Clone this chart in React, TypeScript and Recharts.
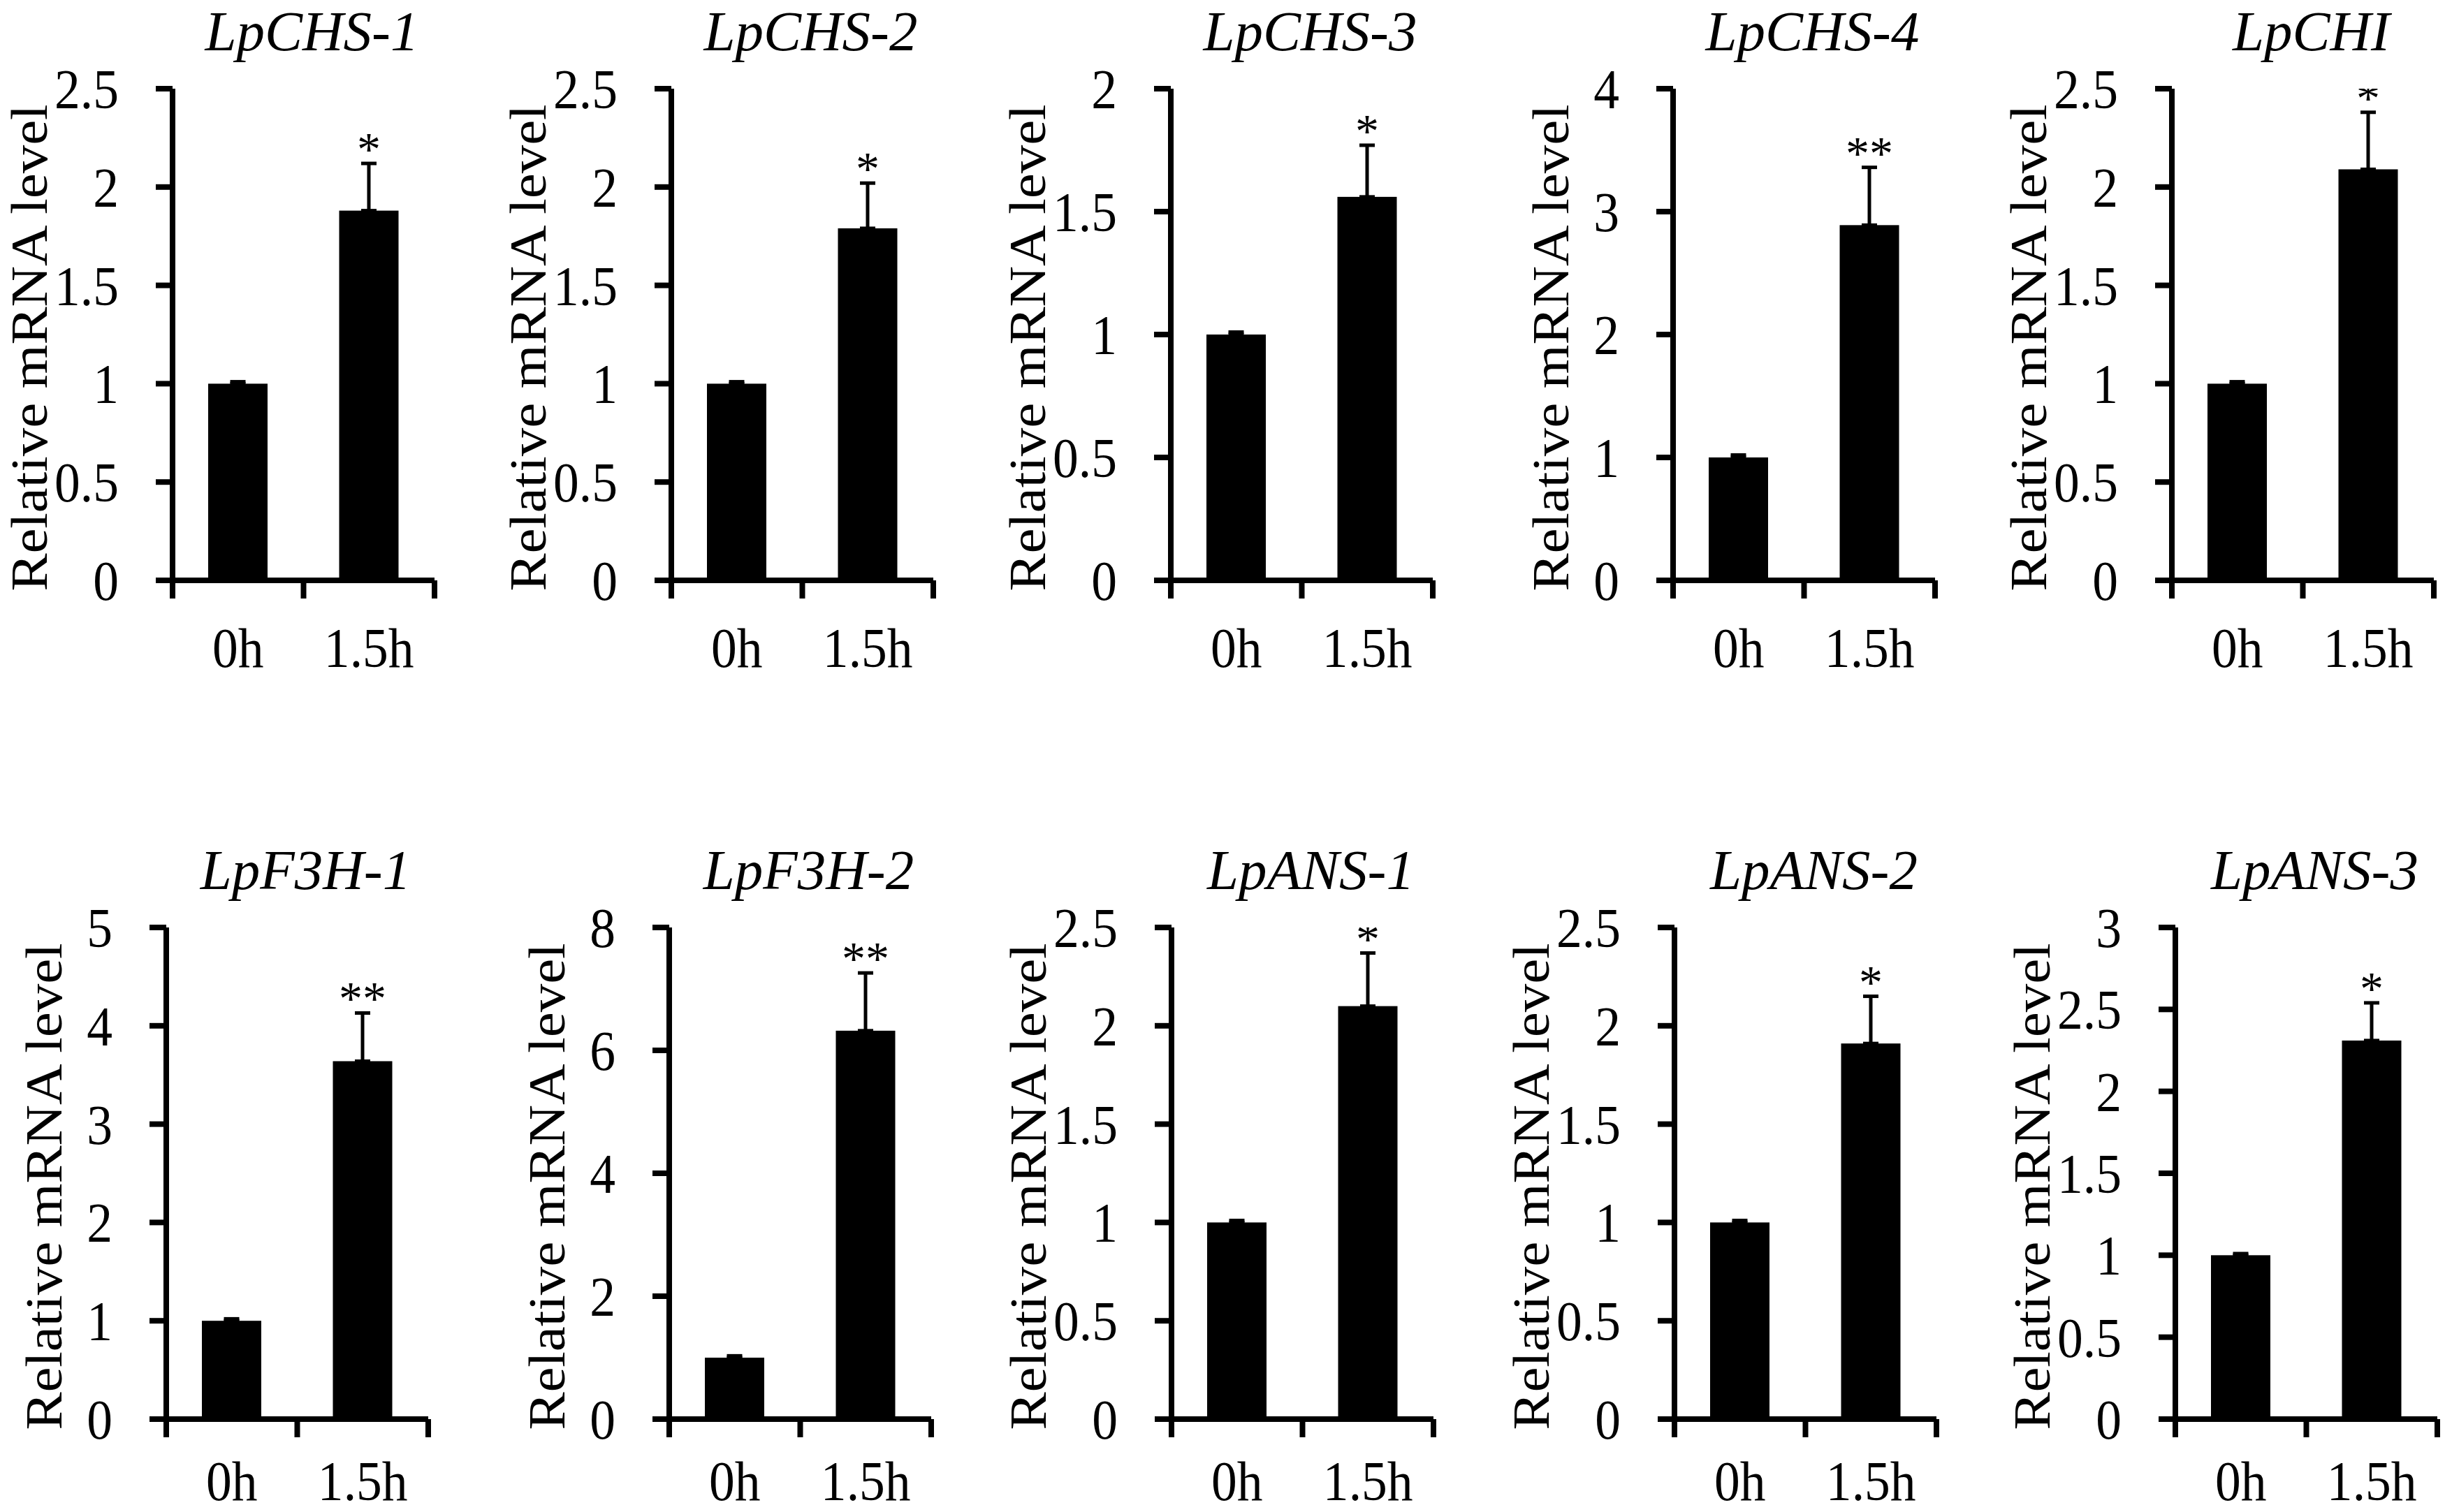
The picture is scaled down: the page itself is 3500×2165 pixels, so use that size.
import { BarChart, Bar, XAxis, YAxis, ErrorBar } from 'recharts';

// gene panels, left to right, top row then bottom row
const genes = [
  'LpCHS-1',
  'LpCHS-2',
  'LpCHS-3',
  'LpCHS-4',
  'LpCHI',
  'LpF3H-1',
  'LpF3H-2',
  'LpANS-1',
  'LpANS-2',
  'LpANS-3',
];
const timePoints = ['0h', '1.5h'];

const controlMean = [1, 1, 1, 1, 1, 1, 1, 1, 1, 1];
const controlErr = [0.01, 0.01, 0.01, 0.02, 0.01, 0.02, 0.03, 0.01, 0.01, 0.01];
const treatedMean = [1.88, 1.79, 1.56, 2.89, 2.09, 3.64, 6.32, 2.1, 1.91, 2.31];
const treatedErr = [0.24, 0.23, 0.21, 0.47, 0.29, 0.49, 0.94, 0.27, 0.24, 0.23];
const significance = ['*', '*', '*', '**', '*', '**', '**', '*', '*', '*'];

const yTicks = [
  [0, 0.5, 1, 1.5, 2, 2.5],
  [0, 0.5, 1, 1.5, 2, 2.5],
  [0, 0.5, 1, 1.5, 2],
  [0, 1, 2, 3, 4],
  [0, 0.5, 1, 1.5, 2, 2.5],
  [0, 1, 2, 3, 4, 5],
  [0, 2, 4, 6, 8],
  [0, 0.5, 1, 1.5, 2, 2.5],
  [0, 0.5, 1, 1.5, 2, 2.5],
  [0, 0.5, 1, 1.5, 2, 2.5, 3],
];
// edges of the two categories plus their centres (where the labels go)
const xTicks = [0, 0.5, 1, 1.5, 2];

const FONT = '"Liberation Serif", "Times New Roman", serif';
const SQUEEZE = 0.92; // the source figure is a little narrower than tall
const CHART_W = 716;
const PLOT_LEFT = 247;
const PLOT_W = 375;
const PLOT_TOP = 127;
const PLOT_H = 704;
const AXIS_H = 160;
const CHART_H = PLOT_TOP + PLOT_H + AXIS_H;

const ROW_TOPS = [0, 1201];
const ROW_LABEL_DROP = [124, 116];
const PANEL_LEFTS = [
  [0, 714, 1429, 2148, 2862],
  [-9, 711, 1430, 2150, 2867],
];

function panelData(i: number) {
  return timePoints.map((time, k) => ({
    t: k + 0.5,
    time,
    mean: k === 0 ? controlMean[i] : treatedMean[i],
    err: [0, k === 0 ? controlErr[i] : treatedErr[i]],
    sig: k === 0 ? '' : significance[i],
  }));
}

function EdgeTick(props: any) {
  const { x, y, payload, drop } = props;
  const v = payload.value;
  if (Number.isInteger(v)) {
    return <line x1={x} y1={y} x2={x} y2={y + 26} stroke="#000" strokeWidth={8} />;
  }
  return (
    <g transform={`translate(${x}, ${y + drop}) scale(${SQUEEZE}, 1)`}>
      <text x={0} y={0} textAnchor="middle" fontFamily={FONT} fontSize={80} fill="#000">
        {timePoints[Math.floor(v)]}
      </text>
    </g>
  );
}

function ValueTick(props: any) {
  const { x, y, payload } = props;
  return (
    <g transform={`translate(${x}, ${y}) scale(${SQUEEZE}, 1)`}>
      <text x={0} y={0} dy="0.35em" textAnchor="end" fontFamily={FONT} fontSize={80} fill="#000">
        {String(payload.value)}
      </text>
    </g>
  );
}

function BarWithStar(props: any) {
  const { x, y, width, height, payload } = props;
  const perUnit = height / payload.mean;
  const errTop = y - payload.err[1] * perUnit;
  return (
    <g>
      <rect x={x} y={y} width={width} height={height} fill="#000" />
      {payload.sig && (
        <text
          x={x + width / 2}
          y={errTop + 2}
          textAnchor="middle"
          fontFamily={FONT}
          fontSize={68}
          fill="#000"
        >
          {payload.sig}
        </text>
      )}
    </g>
  );
}

function Panel({ index }: { index: number }) {
  const row = Math.floor(index / 5);
  const col = index % 5;
  const left = PANEL_LEFTS[row][col];
  const top = ROW_TOPS[row];
  const drop = ROW_LABEL_DROP[row];
  const ticks = yTicks[index];
  const intTicks = ticks.every((t) => Number.isInteger(t));
  const labelX = PLOT_LEFT - (intTicks ? 150 : 180);
  const labelY = PLOT_TOP + PLOT_H / 2 + 19;

  return (
    <div style={{ position: 'absolute', left, top, width: CHART_W, height: CHART_H }}>
      <BarChart
        width={CHART_W}
        height={CHART_H}
        data={panelData(index)}
        margin={{ top: PLOT_TOP, right: CHART_W - PLOT_LEFT - PLOT_W, bottom: 0, left: 0 }}
      >
        <XAxis
          type="number"
          dataKey="t"
          domain={[0, 2]}
          ticks={xTicks}
          interval={0}
          allowDataOverflow
          height={AXIS_H}
          tickSize={0}
          tickMargin={0}
          tickLine={false}
          axisLine={{ stroke: '#000', strokeWidth: 8 }}
          tick={(p: any) => <EdgeTick {...p} drop={drop} />}
        />
        <YAxis
          type="number"
          domain={[0, ticks[ticks.length - 1]]}
          ticks={ticks}
          interval={0}
          allowDataOverflow
          width={PLOT_LEFT}
          tickSize={24}
          tickMargin={53}
          axisLine={{ stroke: '#000', strokeWidth: 8 }}
          tickLine={{ stroke: '#000', strokeWidth: 8 }}
          tick={(p: any) => <ValueTick {...p} />}
        />
        <Bar dataKey="mean" barSize={85} fill="#000" isAnimationActive={false} shape={BarWithStar}>
          <ErrorBar
            dataKey="err"
            direction="y"
            width={11}
            strokeWidth={5}
            stroke="#000"
            isAnimationActive={false}
          />
        </Bar>
      </BarChart>
      <svg
        width={CHART_W}
        height={CHART_H}
        style={{ position: 'absolute', left: 0, top: 0, overflow: 'visible', pointerEvents: 'none' }}
      >
        <text
          x={PLOT_LEFT + PLOT_W / 2 + 12}
          y={PLOT_TOP - 55}
          textAnchor="middle"
          fontFamily={FONT}
          fontStyle="italic"
          fontSize={81}
          fill="#000"
        >
          {genes[index]}
        </text>
        <text
          transform={`translate(${labelX}, ${labelY}) scale(${SQUEEZE}, 1) rotate(-90)`}
          textAnchor="middle"
          fontFamily={FONT}
          fontSize={81}
          fill="#000"
        >
          Relative mRNA level
        </text>
      </svg>
    </div>
  );
}

export default function App() {
  return (
    <div
      style={{
        position: 'absolute',
        left: 0,
        top: 0,
        width: 3500,
        height: 2165,
        background: '#fff',
        overflow: 'hidden',
      }}
    >
      {genes.map((g, i) => (
        <Panel key={g} index={i} />
      ))}
    </div>
  );
}
